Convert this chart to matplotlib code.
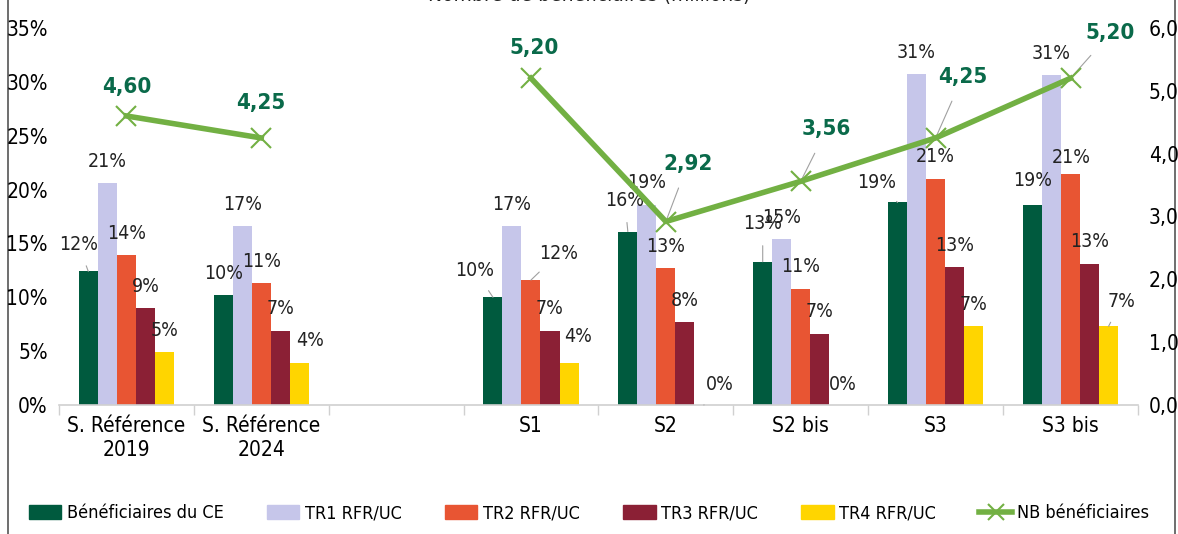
import numpy as np
import matplotlib
matplotlib.use("Agg")
import matplotlib.pyplot as plt
from matplotlib.lines import Line2D

plt.rcParams['font.family'] = ['Liberation Sans Narrow', 'DejaVu Sans']
plt.rcParams['font.stretch'] = 'condensed'

# --- data (the empty slot is the gap between the references and the scenarios) ---
categories = ["S. Référence\n2019", "S. Référence\n2024", "", "S1", "S2", "S2 bis", "S3", "S3 bis"]
series_names = ["Bénéficiaires du CE", "TR1 RFR/UC", "TR2 RFR/UC", "TR3 RFR/UC", "TR4 RFR/UC"]
benef_ce = [12.4, 10.2, np.nan, 10.0, 16.1, 13.3, 18.8, 18.6]
tr1 = [20.6, 16.6, np.nan, 16.6, 18.6, 15.4, 30.7, 30.6]
tr2 = [13.9, 11.3, np.nan, 11.6, 12.7, 10.8, 21.0, 21.4]
tr3 = [9.0, 6.9, np.nan, 6.9, 7.7, 6.6, 12.8, 13.1]
tr4 = [4.9, 3.9, np.nan, 3.9, 0.0, 0.0, 7.3, 7.3]
nb_benef = [4.60, 4.25, np.nan, 5.20, 2.92, 3.56, 4.25, 5.20]

colors = ["#005A3E", "#C6C6EA", "#E85533", "#8B2035", "#FFD500"]
line_color = "#72B043"
label_green = "#0A6A4A"

# label offsets in pixels (dx, dy) relative to bar top; None = default
bar_label_offsets = [
    [(-10, 27), (0, 22), None, (-18, 27), (-3, 31), (0, 38), (-21, 20), (0, 24)],
    [None] * 8,
    [None, None, None, (28, 27), None, None, None, (1, 17)],
    [None] * 8,
    [None, (11, 22), None, (9, 26), (16, 20), (4, 20), None, (13, 25)],
]
line_label_offsets = [(0, 29), (0, 35), None, (3, 30), (22, 58), (26, 52), (27, 61), (40, 45)]

fig = plt.figure(figsize=(11.78, 5.34), dpi=100)
ax = fig.add_axes([0.050, 0.2416, 0.916, 0.7060])
ax2 = ax.twinx()

x = np.arange(len(categories))
width = 0.141
all_series = [benef_ce, tr1, tr2, tr3, tr4]
for i, (vals, name, col) in enumerate(zip(all_series, series_names, colors)):
    pos = x + (i - 2) * width
    ax.bar(pos, vals, width, color=col, label=name, zorder=2)
    for j, v in enumerate(vals):
        if np.isnan(v):
            continue
        off = bar_label_offsets[i][j] or (0, 22)
        lead = abs(off[0]) > 12 or off[1] > 26
        ax.annotate(f"{v:.0f}%", xy=(pos[j], v), xytext=off, textcoords='offset pixels',
                    ha='center', va='center', fontsize=14, color='#222222', zorder=5,
                    arrowprops=dict(arrowstyle='-', color='#A0A0A0', lw=0.8,
                                    shrinkA=7, shrinkB=0) if lead else None)

ax.set_ylim(0, 35)
ax.set_yticks(np.arange(0, 36, 5))
ax.set_yticklabels([f"{t}%" for t in range(0, 36, 5)])
ax.set_xlim(-0.5, len(categories) - 0.5)
ax.set_xticks(x)
ax.set_xticklabels(categories, fontsize=15, linespacing=1.25)
ax.set_xticks(np.arange(-0.5, len(categories)), minor=True)
ax.tick_params(axis='x', which='major', length=0, pad=8)
ax.tick_params(axis='x', which='minor', length=7, color='#D0D0D0', width=1)
ax.tick_params(axis='y', length=0, labelsize=15, pad=8)
for s in ['top', 'right', 'left']:
    ax.spines[s].set_visible(False)
ax.spines['bottom'].set_color('#D0D0D0')
ax.spines['bottom'].set_linewidth(1.2)

ax2.plot(x, nb_benef, color=line_color, lw=4, marker='x', markersize=14,
         markeredgewidth=1.5, zorder=4)
for j, v in enumerate(nb_benef):
    if np.isnan(v):
        continue
    off = line_label_offsets[j]
    lead = off[0] > 10
    ax2.annotate(f"{v:.2f}".replace('.', ','), xy=(x[j], v), xytext=off,
                 textcoords='offset pixels', ha='center', va='center',
                 fontsize=16, fontweight='bold', color=label_green,
                 arrowprops=dict(arrowstyle='-', color='#A0A0A0', lw=0.8,
                                 shrinkA=9, shrinkB=0) if lead else None)
ax2.set_ylim(0, 6)
ax2.set_yticks(np.arange(0, 6.1, 1))
ax2.set_yticklabels([f"{t:.1f}".replace('.', ',') for t in np.arange(0, 6.1, 1)])
ax2.tick_params(axis='y', length=0, labelsize=15, pad=8)
for s in ['top', 'right', 'left', 'bottom']:
    ax2.spines[s].set_visible(False)
# keep line above bars
ax2.set_zorder(3)
ax.set_zorder(2)
ax.patch.set_visible(False)

# cut-off title at the very top
fig.text(0.5, 1.0 + 5 / 534, "Nombre de bénéficiaires (millions)", ha='center',
         va='center', fontsize=15, color='#222222')

# legend
handles = [plt.Rectangle((0, 0), 1, 1, color=c) for c in colors]
handles.append(Line2D([0], [0], color=line_color, lw=4, marker='x', markersize=12,
                      markeredgewidth=1.5))
labels = series_names + ["NB bénéficiaires"]
fig.legend(handles, labels, loc='center', bbox_to_anchor=(0.5, 0.039), ncol=6,
           frameon=False, fontsize=13, handlelength=1.8, handleheight=0.8,
           handletextpad=0.3, columnspacing=2.4)

# figure border on left and right
fig.add_artist(Line2D([0.007, 0.007], [0, 1], color='#555555', lw=1.2))
fig.add_artist(Line2D([0.9975, 0.9975], [0, 1], color='#555555', lw=1.2))

fig.savefig("out.png", dpi=100)
